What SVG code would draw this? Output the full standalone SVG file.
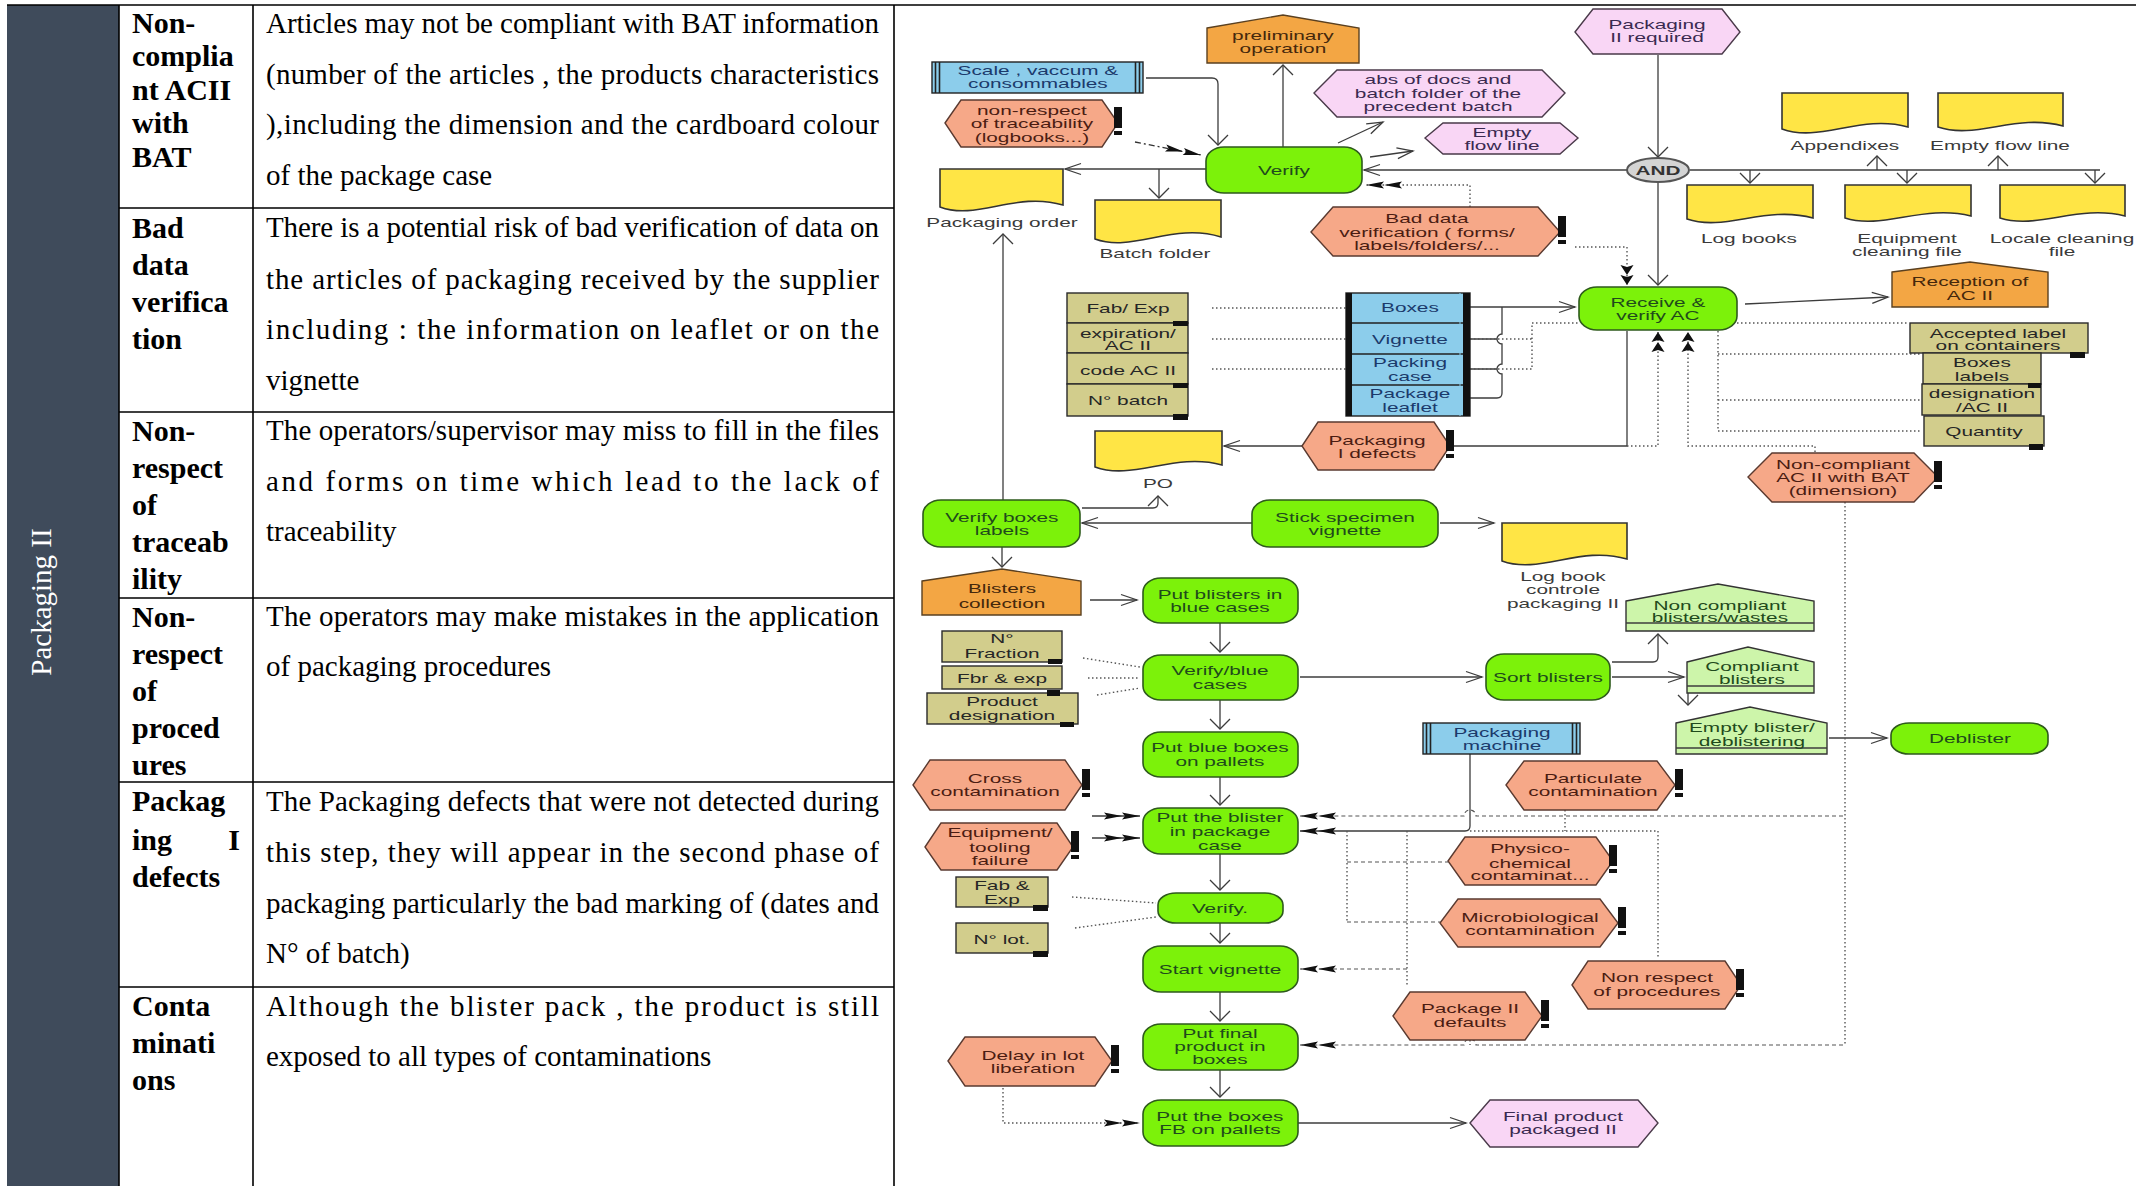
<svg xmlns="http://www.w3.org/2000/svg" width="2141" height="1186" viewBox="0 0 2141 1186">
<style>
.tbl{stroke:#000;stroke-width:1.6;fill:none}
.hd{font-family:"Liberation Serif","Times New Roman",serif;font-size:30px;font-weight:bold;fill:#000}
.bd{font-family:"Liberation Serif","Times New Roman",serif;font-size:29px;fill:#000}
.t{font-family:"Liberation Sans",Arial,sans-serif;font-size:13px;text-anchor:middle;transform-box:fill-box;transform-origin:center;transform:scaleX(1.6)}
.tg{fill:#1f4a1c}.ts{fill:#4b1c12}.tp{fill:#3a2a50}.to{fill:#45280c}.tb{fill:#1b3a6b}.tk{fill:#262626}.tl{fill:#3a3a3a}
.g{fill:#7cf20a;stroke:#2e5a1c;stroke-width:1.6}
.s{fill:#f6a888;stroke:#5a3a30;stroke-width:1.4}
.p{fill:#f9d6f5;stroke:#4a3a4a;stroke-width:1.4}
.o{fill:#f3a644;stroke:#5a4020;stroke-width:1.4}
.y{fill:#ffe545;stroke:#333;stroke-width:1.6}
.k{fill:#d2cd8c;stroke:#2a2a2a;stroke-width:1.4}
.b{fill:#8ccdeb;stroke:#222;stroke-width:1.4}
.lg{fill:#cdf5aa;stroke:#333;stroke-width:1.4}
.ex{fill:#111}
.cn{fill:none;stroke:#3c3c3c;stroke-width:1.3}
.dot{fill:none;stroke:#555;stroke-width:1.4;stroke-dasharray:1.5 2.5}
.dash{fill:none;stroke:#555;stroke-width:1.2;stroke-dasharray:4 3}
.dd{fill:none;stroke:#333;stroke-width:1.3;stroke-dasharray:6 3 2 3}
</style>
<defs>
<marker id="ah" markerUnits="userSpaceOnUse" markerWidth="20" markerHeight="14" refX="16" refY="7" orient="auto" overflow="visible"><path d="M0,1.5 L16,7 L0,12.5" fill="none" stroke="#3c3c3c" stroke-width="1.3"/></marker>
<marker id="av" markerUnits="userSpaceOnUse" markerWidth="12" markerHeight="24" refX="10" refY="11" orient="auto" overflow="visible"><path d="M0,1 L10,11 L0,21" fill="none" stroke="#3c3c3c" stroke-width="1.3"/></marker>
<marker id="dh" markerUnits="userSpaceOnUse" markerWidth="42" markerHeight="10" refX="40" refY="5" orient="auto" overflow="visible"><path d="M40,5 L22,1.5 L25,5 L22,8.5Z M22,5 L4,1.5 L7,5 L4,8.5Z" fill="#111"/></marker>
<marker id="dv" markerUnits="userSpaceOnUse" markerWidth="22" markerHeight="16" refX="21" refY="7" orient="auto" overflow="visible"><path d="M21,7 L11,0.5 L13,7 L11,13.5Z M11,7 L1,0.5 L3,7 L1,13.5Z" fill="#111"/></marker>
</defs>
<rect width="2141" height="1186" fill="#fff"/>

<!-- risk table -->
<g id="table">
<rect x="7" y="5" width="112" height="1181" fill="#3f4b5b"/>
<text transform="translate(51,602) rotate(-90)" text-anchor="middle" font-family="Liberation Serif, Times New Roman, serif" font-size="29" fill="#fff">Packaging II</text>
<path class="tbl" d="M7,5 H2136 M119,5 V1186 M253,5 V1186 M894,5 V1186 M119,208 H894 M119,412 H894 M119,598 H894 M119,782 H894 M119,987 H894"/>
<g class="hd">
<text x="132" y="33">Non-</text><text x="132" y="66">complia</text><text x="132" y="100">nt ACII</text><text x="132" y="133">with</text><text x="132" y="167">BAT</text>
<text x="132" y="238">Bad</text><text x="132" y="275">data</text><text x="132" y="312">verifica</text><text x="132" y="349">tion</text>
<text x="132" y="441">Non-</text><text x="132" y="478">respect</text><text x="132" y="515">of</text><text x="132" y="552">traceab</text><text x="132" y="589">ility</text>
<text x="132" y="627">Non-</text><text x="132" y="664">respect</text><text x="132" y="701">of</text><text x="132" y="738">proced</text><text x="132" y="775">ures</text>
<text x="132" y="811">Packag</text><text x="132" y="850">ing</text><text x="240" y="850" text-anchor="end">I</text><text x="132" y="887">defects</text>
<text x="132" y="1016">Conta</text><text x="132" y="1053">minati</text><text x="132" y="1090">ons</text>
</g>
<g class="bd">
<text x="266" y="33" textLength="613" lengthAdjust="spacing">Articles may not be compliant with BAT information</text>
<text x="266" y="84" textLength="613" lengthAdjust="spacing">(number of the articles , the products characteristics</text>
<text x="266" y="134" textLength="613" lengthAdjust="spacing">),including the dimension and the cardboard colour</text>
<text x="266" y="185">of the package case</text>
<text x="266" y="237" textLength="613" lengthAdjust="spacing">There is a potential risk of bad verification of data on</text>
<text x="266" y="289" textLength="613" lengthAdjust="spacing">the articles of packaging received by the supplier</text>
<text x="266" y="339" textLength="613" lengthAdjust="spacing">including : the information on leaflet or on the</text>
<text x="266" y="390">vignette</text>
<text x="266" y="440" textLength="613" lengthAdjust="spacing">The operators/supervisor may miss to fill in the files</text>
<text x="266" y="491" textLength="613" lengthAdjust="spacing">and forms on time which lead to the lack of</text>
<text x="266" y="541">traceability</text>
<text x="266" y="626" textLength="613" lengthAdjust="spacing">The operators may make mistakes in the application</text>
<text x="266" y="676">of packaging procedures</text>
<text x="266" y="811" textLength="613" lengthAdjust="spacing">The Packaging defects that were not detected during</text>
<text x="266" y="862" textLength="613" lengthAdjust="spacing">this step, they will appear in the second phase of</text>
<text x="266" y="913" textLength="613" lengthAdjust="spacing">packaging particularly the bad marking of (dates and</text>
<text x="266" y="963">N° of batch)</text>
<text x="266" y="1016" textLength="613" lengthAdjust="spacing">Although the blister pack , the product is still</text>
<text x="266" y="1066">exposed to all types of contaminations</text>
</g>
</g>

<!-- connectors -->
<g id="connectors">
<path class="cn" d="M1146,78 H1212 Q1218,78 1218,84 V145" marker-end="url(#av)"/>
<path class="cn" d="M1283,147 V65" marker-end="url(#av)"/>
<path class="cn" d="M1206,169 H1065" marker-end="url(#ah)"/>
<path class="cn" d="M1159,169 V198" marker-end="url(#av)"/>
<path class="cn" d="M1338,143 L1383,122" marker-end="url(#ah)"/>
<path class="cn" d="M1370,157 L1413,151" marker-end="url(#ah)"/>
<path class="cn" d="M1627,170 H1364" marker-end="url(#ah)"/>
<path class="cn" d="M1658,55 V157" marker-end="url(#av)"/>
<path class="cn" d="M1658,182 V285" marker-end="url(#av)"/>
<path class="cn" d="M1690,170 H2100"/>
<path class="cn" d="M1750,170 V183" marker-end="url(#av)"/>
<path class="cn" d="M1907,170 V183" marker-end="url(#av)"/>
<path class="cn" d="M2095,170 V183" marker-end="url(#av)"/>
<path class="cn" d="M1877,170 V156" marker-end="url(#av)"/>
<path class="cn" d="M1998,170 V156" marker-end="url(#av)"/>
<path class="cn" d="M1745,304 L1888,297" marker-end="url(#ah)"/>
<path class="cn" d="M1003,500 V234" marker-end="url(#av)"/>
<path class="cn" d="M1082,508 H1153 Q1158,508 1158,503 V496" marker-end="url(#av)"/>
<path class="cn" d="M1252,523 H1082" marker-end="url(#ah)"/>
<path class="cn" d="M1440,523 H1494" marker-end="url(#ah)"/>
<path class="cn" d="M1627,331 V446 H1224" marker-end="url(#ah)"/>
<path class="cn" d="M1002,547 V567" marker-end="url(#av)"/>
<path class="cn" d="M1090,600 H1137" marker-end="url(#ah)"/>
<path class="cn" d="M1220,623 V652" marker-end="url(#av)"/>
<path class="cn" d="M1300,677 H1482" marker-end="url(#ah)"/>
<path class="cn" d="M1220,700 V729" marker-end="url(#av)"/>
<path class="cn" d="M1220,777 V805" marker-end="url(#av)"/>
<path class="cn" d="M1220,854 V890" marker-end="url(#av)"/>
<path class="cn" d="M1220,923 V943" marker-end="url(#av)"/>
<path class="cn" d="M1220,992 V1021" marker-end="url(#av)"/>
<path class="cn" d="M1220,1070 V1097" marker-end="url(#av)"/>
<path class="cn" d="M1298,1123 H1466" marker-end="url(#ah)"/>
<path class="cn" d="M1612,677 H1684" marker-end="url(#ah)"/>
<path class="cn" d="M1612,662 H1653 Q1658,662 1658,657 V634" marker-end="url(#av)"/>
<path class="cn" d="M1688,693 V705" marker-end="url(#av)"/>
<path class="cn" d="M1829,738 H1887" marker-end="url(#ah)"/>
<path class="cn" d="M1470,754 V826 Q1470,831 1465,831 H1300" marker-end="url(#dh)"/>
<path class="cn" d="M1470,307 H1575" marker-end="url(#ah)"/>
<path class="cn" d="M1502,307 V334 A5,5 0 0 0 1502,344 V364 A5,5 0 0 0 1502,374 V393 Q1502,398 1497,398 H1470 M1470,339 H1497 M1470,369 H1497"/>
<path class="cn" d="M1092,816 H1140" marker-end="url(#dh)"/>
<path class="cn" d="M1092,838 H1140" marker-end="url(#dh)"/>
<path class="dd" d="M1135,142 L1201,155" marker-end="url(#dh)"/>
<path class="dot" d="M1212,308 H1346 M1212,339 H1346 M1212,369 H1346"/>
<path class="dot" d="M1470,339 H1532 M1470,369 H1532 V323 H1578"/>
<path class="dot" d="M1737,323 H1908"/>
<path class="dot" d="M1718,331 V431 M1718,354 H1921 M1718,400 H1920 M1718,431 H1922"/>
<path class="dot" d="M1470,207 V185 H1366" marker-end="url(#dh)"/>
<path class="dot" d="M1575,247 H1627 V285" marker-end="url(#dv)"/>
<path class="dot" d="M1627,446 H1658 V332" marker-end="url(#dv)"/>
<path class="dot" d="M1815,452 V446 H1688 V332" marker-end="url(#dv)"/>
<path class="dot" d="M1845,502 V1045"/>
<path class="dot" d="M1083,658 L1140,667 M1088,678 H1140 M1097,695 L1140,688"/>
<path class="dot" d="M1072,897 L1156,903 M1075,928 L1156,917"/>
<path class="dot" d="M1003,1088 V1123 H1140" marker-end="url(#dh)"/>
<path class="dash" d="M1843,816 H1476 A6,6 0 0 0 1464,816 H1300" marker-end="url(#dh)"/>
<path class="dot" d="M1470,831 H1658 M1565,810 V831 M1347,831 V922 M1407,831 V987 M1658,831 V959 M1470,1040 V1045"/>
<path class="dash" d="M1347,922 H1440 M1347,862 H1448"/>
<path class="dash" d="M1407,969 H1300" marker-end="url(#dh)"/>
<path class="dash" d="M1843,1045 H1476 A6,6 0 0 0 1464,1045 H1300" marker-end="url(#dh)"/>
</g>

<!-- process steps -->
<g id="verify"><rect class="g" x="1206" y="147" width="156" height="46" rx="18" ry="14"/><text class="t tg" x="1284" y="175">Verify</text></g>
<g id="receive-verify-ac"><rect class="g" x="1579" y="287" width="158" height="43" rx="18" ry="14"/><text class="t tg"><tspan x="1658" y="307">Receive &amp;</tspan><tspan x="1658" y="320">verify AC</tspan></text></g>
<g id="verify-boxes-labels"><rect class="g" x="923" y="500" width="157" height="47" rx="18" ry="14"/><text class="t tg"><tspan x="1002" y="522">Verify boxes</tspan><tspan x="1002" y="535">labels</tspan></text></g>
<g id="stick-specimen"><rect class="g" x="1252" y="500" width="186" height="47" rx="18" ry="14"/><text class="t tg"><tspan x="1345" y="522">Stick specimen</tspan><tspan x="1345" y="535">vignette</tspan></text></g>
<g id="put-blisters"><rect class="g" x="1143" y="578" width="155" height="45" rx="18" ry="14"/><text class="t tg"><tspan x="1220" y="599">Put blisters in</tspan><tspan x="1220" y="612">blue cases</tspan></text></g>
<g id="verify-blue"><rect class="g" x="1143" y="655" width="155" height="45" rx="18" ry="14"/><text class="t tg"><tspan x="1220" y="675">Verify/blue</tspan><tspan x="1220" y="689">cases</tspan></text></g>
<g id="sort-blisters"><rect class="g" x="1486" y="654" width="124" height="46" rx="18" ry="14"/><text class="t tg" x="1548" y="682">Sort blisters</text></g>
<g id="deblister"><rect class="g" x="1891" y="723" width="157" height="31" rx="18" ry="12"/><text class="t tg" x="1970" y="743">Deblister</text></g>
<g id="put-blue-boxes"><rect class="g" x="1143" y="732" width="155" height="45" rx="18" ry="14"/><text class="t tg"><tspan x="1220" y="752">Put blue boxes</tspan><tspan x="1220" y="766">on pallets</tspan></text></g>
<g id="put-blister-case"><rect class="g" x="1143" y="808" width="155" height="46" rx="18" ry="14"/><text class="t tg"><tspan x="1220" y="822">Put the blister</tspan><tspan x="1220" y="836">in package</tspan><tspan x="1220" y="850">case</tspan></text></g>
<g id="verify-final"><rect class="g" x="1158" y="893" width="125" height="30" rx="18" ry="12"/><text class="t tg" x="1220" y="913">Verify.</text></g>
<g id="start-vignette"><rect class="g" x="1143" y="946" width="155" height="46" rx="18" ry="14"/><text class="t tg" x="1220" y="974">Start vignette</text></g>
<g id="put-final-product"><rect class="g" x="1143" y="1024" width="155" height="46" rx="18" ry="14"/><text class="t tg"><tspan x="1220" y="1038">Put final</tspan><tspan x="1220" y="1051">product in</tspan><tspan x="1220" y="1064">boxes</tspan></text></g>
<g id="put-boxes-fb"><rect class="g" x="1143" y="1100" width="155" height="46" rx="18" ry="14"/><text class="t tg"><tspan x="1220" y="1121">Put the boxes</tspan><tspan x="1220" y="1134">FB on pallets</tspan></text></g>

<!-- events -->
<g id="preliminary-operation"><polygon class="o" points="1207,28 1283,15 1359,28 1359,63 1207,63"/><text class="t to"><tspan x="1283" y="40">preliminary</tspan><tspan x="1283" y="53">operation</tspan></text></g>
<g id="reception-ac"><polygon class="o" points="1892,272 1970,262 2048,272 2048,307 1892,307"/><text class="t to"><tspan x="1970" y="286">Reception of</tspan><tspan x="1970" y="300">AC II</tspan></text></g>
<g id="blisters-collection"><polygon class="o" points="922,581 1002,569 1081,581 1081,615 922,615"/><text class="t to"><tspan x="1002" y="593">Blisters</tspan><tspan x="1002" y="608">collection</tspan></text></g>
<g id="packaging-required"><polygon class="p" points="1575,32 1593,9 1722,9 1740,32 1722,54 1593,54"/><text class="t tp"><tspan x="1657" y="29">Packaging</tspan><tspan x="1657" y="42">II required</tspan></text></g>
<g id="abs-docs"><polygon class="p" points="1314,93 1337,70 1542,70 1565,93 1542,117 1337,117"/><text class="t tp"><tspan x="1438" y="84">abs of docs and</tspan><tspan x="1438" y="98">batch folder of the</tspan><tspan x="1438" y="111">precedent batch</tspan></text></g>
<g id="empty-flow-line"><polygon class="p" points="1425,138 1443,123 1560,123 1578,138 1560,154 1443,154"/><text class="t tp"><tspan x="1502" y="137">Empty</tspan><tspan x="1502" y="150">flow line</tspan></text></g>
<g id="final-product"><polygon class="p" points="1470,1123 1490,1100 1638,1100 1658,1123 1638,1147 1490,1147"/><text class="t tp"><tspan x="1563" y="1121">Final product</tspan><tspan x="1563" y="1134">packaged II</tspan></text></g>
<g id="and-gate"><ellipse cx="1658" cy="170" rx="31" ry="12" fill="#d4d4d4" stroke="#555" stroke-width="2"/><text class="t" x="1658" y="175" font-weight="bold" fill="#333">AND</text></g>
<g id="non-compliant-blisters"><polygon class="lg" points="1626,601 1718,584 1814,601 1814,631 1626,631"/><path class="cn" d="M1626,623 H1814"/><text class="t tg"><tspan x="1720" y="610">Non compliant</tspan><tspan x="1720" y="622">blisters/wastes</tspan></text></g>
<g id="compliant-blisters"><polygon class="lg" points="1687,662 1748,647 1814,662 1814,693 1687,693"/><path class="cn" d="M1687,686 H1814"/><text class="t tg"><tspan x="1752" y="671">Compliant</tspan><tspan x="1752" y="684">blisters</tspan></text></g>
<g id="empty-blister"><polygon class="lg" points="1676,723 1750,707 1827,723 1827,754 1676,754"/><path class="cn" d="M1676,748 H1827"/><text class="t tg"><tspan x="1752" y="732">Empty blister/</tspan><tspan x="1752" y="746">deblistering</tspan></text></g>

<!-- documents -->
<g id="packaging-order"><path class="y" d="M940,169 H1063 V205 C1016,191 977,221 940,207 Z"/><text class="t tl" x="1002" y="227">Packaging order</text></g>
<g id="batch-folder"><path class="y" d="M1095,200 H1221 V237 C1173,222 1133,253 1095,239 Z"/><text class="t tl" x="1155" y="258">Batch folder</text></g>
<g id="log-books"><path class="y" d="M1687,185 H1813 V218 C1765,205 1725,232 1687,219 Z"/><text class="t tl" x="1749" y="243">Log books</text></g>
<g id="appendixes"><path class="y" d="M1782,93 H1908 V127 C1860,114 1820,143 1782,129 Z"/><text class="t tl" x="1845" y="150">Appendixes</text></g>
<g id="empty-flow-doc"><path class="y" d="M1938,93 H2063 V126 C2016,113 1976,140 1938,127 Z"/><text class="t tl" x="2000" y="150">Empty flow line</text></g>
<g id="equipment-cleaning"><path class="y" d="M1845,185 H1971 V216 C1923,204 1883,230 1845,218 Z"/><text class="t tl"><tspan x="1907" y="243">Equipment</tspan><tspan x="1907" y="256">cleaning file</tspan></text></g>
<g id="locale-cleaning"><path class="y" d="M2000,185 H2125 V216 C2078,204 2038,230 2000,218 Z"/><text class="t tl"><tspan x="2062" y="243">Locale cleaning</tspan><tspan x="2062" y="256">file</tspan></text></g>
<g id="po"><path class="y" d="M1095,431 H1222 V465 C1174,452 1133,481 1095,467 Z"/><text class="t tl" x="1158" y="488">PO</text></g>
<g id="log-book-controle"><path class="y" d="M1502,523 H1627 V559 C1580,545 1540,575 1502,561 Z"/><text class="t tl"><tspan x="1563" y="581">Log book</tspan><tspan x="1563" y="594">controle</tspan><tspan x="1563" y="608">packaging II</tspan></text></g>

<!-- resources -->
<g id="scale-vaccum"><rect class="b" x="932" y="62" width="211" height="31"/><path d="M935.5,62 V93 M939.5,62 V93 M1135.5,62 V93 M1139.5,62 V93" stroke="#222" stroke-width="1.6"/><text class="t tb"><tspan x="1038" y="75">Scale , vaccum &amp;</tspan><tspan x="1038" y="88">consommables</tspan></text></g>
<g id="articles-stack"><rect class="b" x="1346" y="293" width="124" height="123"/><path d="M1346,323 H1470 M1346,354 H1470 M1346,385 H1470" stroke="#222" stroke-width="1.4"/><rect class="ex" x="1346" y="293" width="6" height="123"/><rect class="ex" x="1463" y="293" width="7" height="123"/><path d="M1460,293 V416" stroke="#8ccdeb" stroke-width="1"/>
<text class="t tb" x="1410" y="312">Boxes</text><text class="t tb" x="1410" y="344">Vignette</text><text class="t tb"><tspan x="1410" y="367">Packing</tspan><tspan x="1410" y="381">case</tspan></text><text class="t tb"><tspan x="1410" y="398">Package</tspan><tspan x="1410" y="412">leaflet</tspan></text></g>
<g id="packaging-machine"><rect class="b" x="1423" y="723" width="157" height="31"/><path d="M1426.5,723 V754 M1430.5,723 V754 M1572.5,723 V754 M1576.5,723 V754" stroke="#222" stroke-width="1.6"/><text class="t tb"><tspan x="1502" y="737">Packaging</tspan><tspan x="1502" y="750">machine</tspan></text></g>

<!-- information items -->
<g id="fab-exp-stack"><rect class="k" x="1067" y="293" width="121" height="30"/><rect class="k" x="1067" y="323" width="121" height="30"/><rect class="k" x="1067" y="353" width="121" height="31"/><rect class="k" x="1067" y="384" width="121" height="32"/>
<rect class="ex" x="1173" y="321" width="15" height="5"/><rect class="ex" x="1173" y="383" width="15" height="5"/><rect class="ex" x="1173" y="414" width="15" height="6"/>
<text class="t tk" x="1128" y="313">Fab/ Exp</text><text class="t tk"><tspan x="1128" y="338">expiration/</tspan><tspan x="1128" y="350">AC II</tspan></text><text class="t tk" x="1128" y="375">code AC II</text><text class="t tk" x="1128" y="405">N° batch</text></g>
<g id="label-stack"><rect class="k" x="1910" y="323" width="178" height="30"/><rect class="k" x="1923" y="353" width="118" height="31"/><rect class="k" x="1922" y="384" width="119" height="31"/><rect class="k" x="1924" y="416" width="120" height="30"/>
<rect class="ex" x="2070" y="352" width="15" height="6"/><rect class="ex" x="2028" y="383" width="13" height="5"/><rect class="ex" x="2029" y="444" width="14" height="6"/>
<text class="t tk"><tspan x="1998" y="338">Accepted label</tspan><tspan x="1998" y="350">on containers</tspan></text><text class="t tk"><tspan x="1982" y="367">Boxes</tspan><tspan x="1982" y="381">labels</tspan></text><text class="t tk"><tspan x="1982" y="398">designation</tspan><tspan x="1982" y="412">/AC II</tspan></text><text class="t tk" x="1984" y="436">Quantity</text></g>
<g id="fraction-stack"><rect class="k" x="942" y="631" width="120" height="31"/><rect class="k" x="942" y="666" width="120" height="23"/><rect class="k" x="927" y="693" width="151" height="31"/>
<rect class="ex" x="1048" y="659" width="14" height="5"/><rect class="ex" x="1047" y="690" width="13" height="6"/><rect class="ex" x="1060" y="722" width="14" height="5"/>
<text class="t tk"><tspan x="1002" y="643">N°</tspan><tspan x="1002" y="658">Fraction</tspan></text><text class="t tk" x="1002" y="683">Fbr &amp; exp</text><text class="t tk"><tspan x="1002" y="706">Product</tspan><tspan x="1002" y="720">designation</tspan></text></g>
<g id="fab-exp-final"><rect class="k" x="956" y="877" width="92" height="30"/><rect class="ex" x="1033" y="905" width="15" height="6"/><text class="t tk"><tspan x="1002" y="890">Fab &amp;</tspan><tspan x="1002" y="904">Exp</tspan></text></g>
<g id="lot-number"><rect class="k" x="956" y="923" width="92" height="30"/><rect class="ex" x="1033" y="951" width="15" height="6"/><text class="t tk" x="1002" y="944">N° lot.</text></g>

<!-- risks -->
<g id="risk-traceability"><polygon class="s" points="945,123 961,100 1102,100 1118,123 1102,147 961,147"/><rect class="ex" x="1114" y="107" width="8" height="21"/><rect class="ex" x="1114" y="131" width="8" height="4"/><text class="t ts"><tspan x="1032" y="115">non-respect</tspan><tspan x="1032" y="128">of traceability</tspan><tspan x="1032" y="142">(logbooks...)</tspan></text></g>
<g id="risk-bad-data"><polygon class="s" points="1311,232 1333,207 1538,207 1560,232 1538,256 1333,256"/><rect class="ex" x="1558" y="216" width="8" height="21"/><rect class="ex" x="1558" y="240" width="8" height="4"/><text class="t ts"><tspan x="1427" y="223">Bad data</tspan><tspan x="1427" y="237">verification ( forms/</tspan><tspan x="1427" y="250">labels/folders/...</tspan></text></g>
<g id="risk-non-compliant-ac"><polygon class="s" points="1748,477 1772,453 1914,453 1938,477 1914,502 1772,502"/><rect class="ex" x="1934" y="461" width="8" height="21"/><rect class="ex" x="1934" y="485" width="8" height="4"/><text class="t ts"><tspan x="1843" y="469">Non-compliant</tspan><tspan x="1843" y="482">AC II with BAT</tspan><tspan x="1843" y="495">(dimension)</tspan></text></g>
<g id="risk-packaging-i"><polygon class="s" points="1302,446 1318,422 1434,422 1450,446 1434,470 1318,470"/><rect class="ex" x="1446" y="430" width="8" height="21"/><rect class="ex" x="1446" y="454" width="8" height="4"/><text class="t ts"><tspan x="1377" y="445">Packaging</tspan><tspan x="1377" y="458">I defects</tspan></text></g>
<g id="risk-cross"><polygon class="s" points="913,785 930,760 1065,760 1082,785 1065,810 930,810"/><rect class="ex" x="1082" y="769" width="8" height="21"/><rect class="ex" x="1082" y="793" width="8" height="4"/><text class="t ts"><tspan x="995" y="783">Cross</tspan><tspan x="995" y="796">contamination</tspan></text></g>
<g id="risk-particulate"><polygon class="s" points="1506,785 1524,761 1657,761 1675,785 1657,810 1524,810"/><rect class="ex" x="1675" y="769" width="8" height="21"/><rect class="ex" x="1675" y="793" width="8" height="4"/><text class="t ts"><tspan x="1593" y="783">Particulate</tspan><tspan x="1593" y="796">contamination</tspan></text></g>
<g id="risk-equipment"><polygon class="s" points="925,847 941,823 1057,823 1073,847 1057,870 941,870"/><rect class="ex" x="1071" y="831" width="8" height="21"/><rect class="ex" x="1071" y="855" width="8" height="4"/><text class="t ts"><tspan x="1000" y="837">Equipment/</tspan><tspan x="1000" y="852">tooling</tspan><tspan x="1000" y="865">failure</tspan></text></g>
<g id="risk-physico"><polygon class="s" points="1448,861 1465,837 1596,837 1613,861 1596,885 1465,885"/><rect class="ex" x="1609" y="845" width="8" height="21"/><rect class="ex" x="1609" y="869" width="8" height="4"/><text class="t ts"><tspan x="1530" y="853">Physico-</tspan><tspan x="1530" y="868">chemical</tspan><tspan x="1530" y="880">contaminat...</tspan></text></g>
<g id="risk-micro"><polygon class="s" points="1440,923 1458,899 1600,899 1618,923 1600,947 1458,947"/><rect class="ex" x="1618" y="907" width="8" height="21"/><rect class="ex" x="1618" y="931" width="8" height="4"/><text class="t ts"><tspan x="1530" y="922">Microbiological</tspan><tspan x="1530" y="935">contamination</tspan></text></g>
<g id="risk-procedures"><polygon class="s" points="1572,985 1588,961 1725,961 1741,985 1725,1009 1588,1009"/><rect class="ex" x="1736" y="969" width="8" height="21"/><rect class="ex" x="1736" y="993" width="8" height="4"/><text class="t ts"><tspan x="1657" y="982">Non respect</tspan><tspan x="1657" y="996">of procedures</tspan></text></g>
<g id="risk-package-ii"><polygon class="s" points="1393,1016 1410,992 1525,992 1542,1016 1525,1040 1410,1040"/><rect class="ex" x="1541" y="1000" width="8" height="21"/><rect class="ex" x="1541" y="1024" width="8" height="4"/><text class="t ts"><tspan x="1470" y="1013">Package II</tspan><tspan x="1470" y="1027">defaults</tspan></text></g>
<g id="risk-delay"><polygon class="s" points="948,1061 965,1037 1095,1037 1112,1061 1095,1086 965,1086"/><rect class="ex" x="1111" y="1045" width="8" height="21"/><rect class="ex" x="1111" y="1069" width="8" height="4"/><text class="t ts"><tspan x="1033" y="1060">Delay in lot</tspan><tspan x="1033" y="1073">liberation</tspan></text></g>
</svg>
